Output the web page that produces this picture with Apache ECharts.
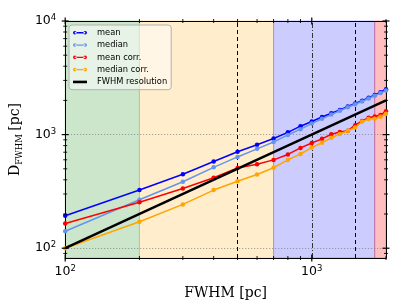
<!DOCTYPE html>
<html>
<head>
<meta charset="utf-8">
<script src="https://cdn.jsdelivr.net/npm/echarts@6/dist/echarts.min.js"></script>
<style>html,body{margin:0;padding:0;background:#fff;}#c{width:407px;height:305px;}</style>
</head>
<body>
<div id="c"></div>
<script>
const fwhm = [100,200,300,400,500,600,700,800,900,1000,1100,1200,1300,1400,1500,1600,1700,1800,1900,2000];
const meanVals = [193,325,448,579,706,815,925,1047,1186,1305,1430,1540,1650,1770,1880,1990,2110,2230,2360,2510];
const medianVals = [141,267,385,515,636,749,860,993,1117,1251,1380,1500,1620,1740,1850,1960,2080,2200,2320,2440];
const meanCorrVals = [165,254,335,417,508,549,599,669,764,843,918,1007,1054,1083,1210,1319,1408,1445,1486,1608];
const medianCorrVals = [100,171,243,325,388,446,511,599,675,769,848,936,1013,1080,1156,1301,1373,1381,1437,1524];
const resolutionX = [100,2000];
const resolutionY = [100,2000];
const seriesNames = ['mean','median','mean corr.','median corr.','FWHM resolution'];
const bandEdges = [100,200,700,1800,2000];
const dashedLinesX = [500,1500];
const dashDotLinesX = [1000];
const dottedLinesY = [100,1000];
const xMajorTicks = [100,1000];
const xMinorTicks = [200,300,400,500,600,700,800,900,2000];
const yMajorTicks = [100,1000,10000];
const yMinorTicks = [90,200,300,400,500,600,700,800,900,2000,3000,4000,5000,6000,7000,8000,9000];
const X_MIN = 100, X_MAX = 2000, Y_MIN = 82, Y_MAX = 10000;

const colors = ['#0000ff','#6495ed','#ff0000','#ffa500','#000000'];
const bandColors = ['rgba(0,128,0,0.2)','rgba(255,165,0,0.2)','rgba(0,0,255,0.2)','rgba(255,0,0,0.25)'];
const bandBorders = ['rgba(0,128,0,0.25)','rgba(255,165,0,0.35)','rgba(0,0,255,0.25)','rgba(255,0,0,0.3)'];

const pair = (xs, ys) => xs.map((x, i) => [x, ys[i]]);
const dotIcon = 'path://M0,2a1.8,1.8 0 1,0 3.6,0a1.8,1.8 0 1,0 -3.6,0ZM1.8,1.35H12.2V2.65H1.8ZM10.4,2a1.8,1.8 0 1,0 3.6,0a1.8,1.8 0 1,0 -3.6,0Z';
const barIcon = 'path://M0,0.7H14V3.3H0Z';

function powLabel(v) {
  const e = Math.log10(v);
  if (Math.abs(e - Math.round(e)) > 1e-6) return '';
  return '{b|10}{s|' + Math.round(e) + '}';
}
const labelRich = {
  b: {fontSize: 12.5, fontFamily: 'DejaVu Sans', color: '#000'},
  s: {fontSize: 8.5, fontFamily: 'DejaVu Sans', color: '#000', verticalAlign: 'top', padding: [0,0,6,0]}
};

function lineSeries(name, ys, color, z) {
  return {
    type: 'line', name: name, data: pair(fwhm, ys), z: z,
    symbol: 'circle', symbolSize: 4.5, showSymbol: true,
    lineStyle: {color: color, width: 1.5}, itemStyle: {color: color},
    emphasis: {disabled: true}
  };
}

const bands = [];
for (let i = 0; i < bandEdges.length - 1; i++) {
  bands.push([{xAxis: bandEdges[i], itemStyle: {color: bandColors[i], borderColor: bandBorders[i], borderWidth: 1}}, {xAxis: bandEdges[i+1]}]);
}
const refLines = [];
dashedLinesX.forEach(x => refLines.push({xAxis: x, lineStyle: {color: '#000', width: 1, type: [4,3]}}));
dashDotLinesX.forEach(x => refLines.push({xAxis: x, lineStyle: {color: '#333', width: 1, type: [5,2,1,2]}}));
dottedLinesY.forEach(y => refLines.push({yAxis: y, lineStyle: {color: '#777', width: 0.8, type: [1,2]}}));

const tickData = (arr, major) => arr.map(v => [v, major ? 1 : 0]);

const option = {
  animation: false,
  grid: {left: 65, right: 21, top: 21, bottom: 41, containLabel: false},
  xAxis: [
    {type: 'log', logBase: 10, min: X_MIN, max: X_MAX, position: 'bottom',
     axisLine: {show: true, lineStyle: {color: '#000', width: 1}}, axisTick: {show: false}, splitLine: {show: false},
     axisLabel: {formatter: powLabel, rich: labelRich, margin: 6, showMinLabel: true, showMaxLabel: true},
     name: 'FWHM [pc]', nameLocation: 'middle', nameGap: 28,
     nameTextStyle: {fontFamily: 'DejaVu Serif', fontSize: 14, color: '#000'}},
    {type: 'log', logBase: 10, min: X_MIN, max: X_MAX, position: 'top',
     axisLine: {show: true, lineStyle: {color: '#000', width: 1}}, axisTick: {show: false}, splitLine: {show: false}, axisLabel: {show: false}}
  ],
  yAxis: [
    {type: 'log', logBase: 10, min: Y_MIN, max: Y_MAX, position: 'left',
     axisLine: {show: true, lineStyle: {color: '#000', width: 1}}, axisTick: {show: false}, splitLine: {show: false},
     axisLabel: {formatter: powLabel, rich: labelRich, margin: 9},
     name: '{d|D}{f|FWHM} {d|[pc]}', nameLocation: 'middle', nameGap: 38, nameRotate: 90,
     nameTextStyle: {rich: {
       d: {fontFamily: 'DejaVu Serif', fontSize: 14, color: '#000', verticalAlign: 'bottom'},
       f: {fontFamily: 'DejaVu Serif', fontSize: 8.5, color: '#000', verticalAlign: 'bottom', padding: [0,0,-2,0]}
     }}},
    {type: 'log', logBase: 10, min: Y_MIN, max: Y_MAX, position: 'right',
     axisLine: {show: true, lineStyle: {color: '#000', width: 1}}, axisTick: {show: false}, splitLine: {show: false}, axisLabel: {show: false}}
  ],
  legend: {
    show: true, orient: 'vertical', left: 69, top: 25,
    data: [
      {name: seriesNames[0], icon: dotIcon},
      {name: seriesNames[1], icon: dotIcon},
      {name: seriesNames[2], icon: dotIcon},
      {name: seriesNames[3], icon: dotIcon},
      {name: seriesNames[4], icon: barIcon}
    ],
    itemWidth: 14, itemHeight: 4, itemGap: 2.8,
    padding: [3, 4, 3, 4],
    backgroundColor: 'rgba(255,255,255,0.5)', borderColor: '#b0b0b0', borderWidth: 1, borderRadius: 3,
    textStyle: {fontFamily: 'DejaVu Sans', fontSize: 8.3, color: '#000', lineHeight: 9.5, padding: [0,0,0,5]},
    selectedMode: false
  },
  series: [
    {type: 'line', name: '_bands', data: [], z: 0, silent: true,
     markArea: {silent: true, data: bands, z: 0}},
    {type: 'line', name: '_lines', data: [], z: 1, silent: true,
     markLine: {silent: true, symbol: ['none','none'], label: {show: false}, data: refLines, z: 1, animation: false}},
    lineSeries(seriesNames[0], meanVals, colors[0], 3),
    lineSeries(seriesNames[1], medianVals, colors[1], 4),
    lineSeries(seriesNames[2], meanCorrVals, colors[2], 5),
    lineSeries(seriesNames[3], medianCorrVals, colors[3], 6),
    {type: 'line', name: seriesNames[4], data: pair(resolutionX, resolutionY), z: 7,
     symbol: 'none', lineStyle: {color: '#000', width: 2.5}, itemStyle: {color: '#000'}, emphasis: {disabled: true}},
    {type: 'custom', name: '_xticks', coordinateSystem: 'cartesian2d', xAxisIndex: 0, yAxisIndex: 0, silent: true, z: 20, clip: false,
     data: tickData(xMajorTicks, true).concat(tickData(xMinorTicks, false)),
     encode: {x: 0},
     renderItem: function (params, api) {
       const v = api.value(0), major = api.value(1);
       const b = api.coord([v, Y_MIN]), t = api.coord([v, Y_MAX]);
       const L = major ? 3.5 : 2;
       return {type: 'group', children: [
         {type: 'line', shape: {x1: b[0], y1: b[1] - L, x2: b[0], y2: b[1] + L}, style: {stroke: '#000', lineWidth: major ? 1.2 : 0.9}},
         {type: 'line', shape: {x1: t[0], y1: t[1] - L, x2: t[0], y2: t[1] + L}, style: {stroke: '#000', lineWidth: major ? 1.2 : 0.9}}
       ]};
     }},
    {type: 'custom', name: '_yticks', coordinateSystem: 'cartesian2d', xAxisIndex: 0, yAxisIndex: 0, silent: true, z: 20, clip: false,
     data: tickData(yMajorTicks, true).concat(tickData(yMinorTicks, false)),
     encode: {y: 0},
     renderItem: function (params, api) {
       const v = api.value(0), major = api.value(1);
       const l = api.coord([X_MIN, v]), r = api.coord([X_MAX, v]);
       const L = major ? 3.5 : 2;
       return {type: 'group', children: [
         {type: 'line', shape: {x1: l[0] - L, y1: l[1], x2: l[0] + L, y2: l[1]}, style: {stroke: '#000', lineWidth: major ? 1.2 : 0.9}},
         {type: 'line', shape: {x1: r[0] - L, y1: r[1], x2: r[0] + L, y2: r[1]}, style: {stroke: '#000', lineWidth: major ? 1.2 : 0.9}}
       ]};
     }}
  ]
};
echarts.init(document.getElementById('c'), null, {renderer: 'canvas'}).setOption(option);
</script>
</body>
</html>
